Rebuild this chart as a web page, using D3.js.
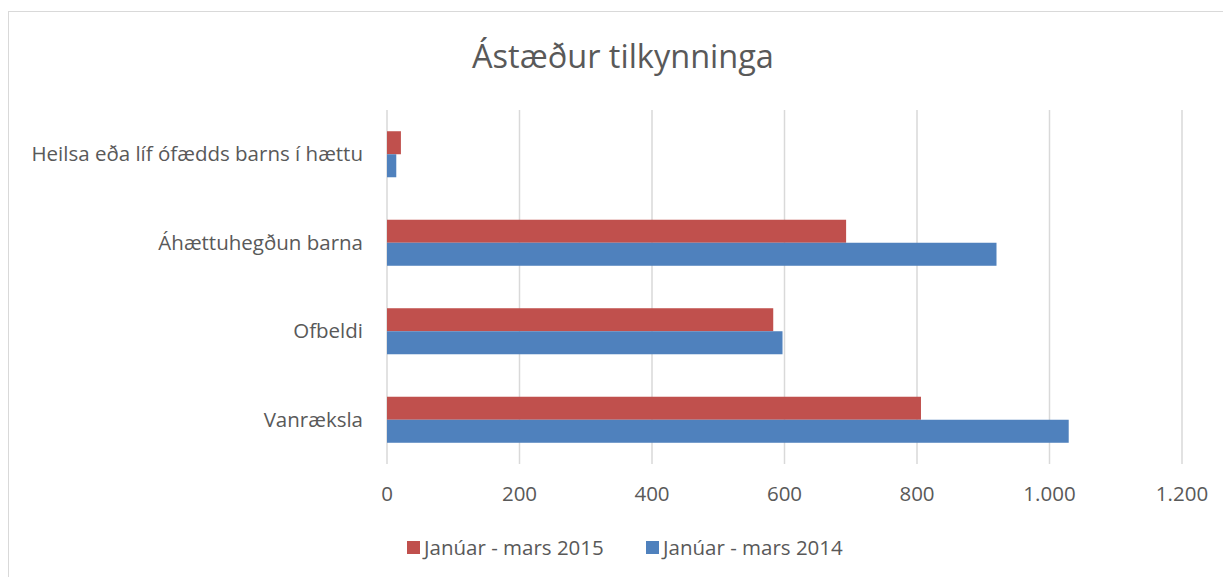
<!DOCTYPE html>
<html lang="is">
<head>
<meta charset="utf-8" />
<title>Ástæður tilkynninga</title>
<script src="https://d3js.org/d3.v7.min.js"></script>
<style>
    body { margin: 0; background: #fff; }
    text { font-family: "Open Sans", "Noto Sans", sans-serif; fill: #595959; }
</style>
</head>
<body>
<div id="chart"></div>
<script>
    // data
    const categories = ["Heilsa eða líf ófædds barns í hættu", "Áhættuhegðun barna", "Ofbeldi", "Vanræksla"];
    const seriesNames = ["Janúar - mars 2015", "Janúar - mars 2014"];
    const values2015 = [21, 693, 583, 806];
    const values2014 = [14, 920, 597, 1029];
    const xTicks = [0, 200, 400, 600, 800, 1000, 1200];
    const colors = ["#c0504d", "#4f81bd"];

    const W = 1223, H = 577;
    const margin = {top: 110, right: 41, bottom: 113, left: 387};
    const width = W - margin.left - margin.right,
        height = H - margin.top - margin.bottom;

    const svg = d3.select("#chart").append("svg")
        .attr("width", W)
        .attr("height", H);

    // outer chart border
    svg.append("rect")
        .attr("x", 8.5).attr("y", 11.5)
        .attr("width", W).attr("height", H)
        .attr("fill", "none")
        .attr("stroke", "#d9d9d9");

    svg.append("text")
        .attr("x", 623).attr("y", 68)
        .attr("text-anchor", "middle")
        .style("font-size", "32.5px")
        .text("Ástæður tilkynninga");

    const g = svg.append("g").attr("transform", `translate(${margin.left},${margin.top})`);

    const x = d3.scaleLinear().domain([0, 1200]).range([0, width]);
    const y = d3.scaleBand().domain(categories).range([0, height]).paddingInner(0.48).paddingOuter(0.24);
    const ySub = d3.scaleBand().domain([0, 1]).range([0, y.bandwidth()]);

    // gridlines
    g.selectAll(".grid").data(xTicks).join("line")
        .attr("x1", d => x(d)).attr("x2", d => x(d))
        .attr("y1", 0).attr("y2", height)
        .attr("stroke", "#d9d9d9").attr("stroke-width", 1.5);

    const rows = categories.map((c, i) => ({cat: c, vals: [values2015[i], values2014[i]]}));

    const grp = g.selectAll(".cat").data(rows).join("g")
        .attr("transform", d => `translate(0,${y(d.cat)})`);

    grp.selectAll("rect").data(d => d.vals.map((v, k) => ({v, k}))).join("rect")
        .attr("x", x(0))
        .attr("y", d => ySub(d.k))
        .attr("width", d => x(d.v) - x(0))
        .attr("height", ySub.bandwidth())
        .attr("fill", d => colors[d.k]);

    // category labels
    g.selectAll(".cl").data(categories).join("text")
        .attr("x", -24)
        .attr("y", d => y(d) + y.bandwidth() / 2)
        .attr("dy", "0.35em")
        .attr("text-anchor", "end")
        .style("font-size", "20.5px")
        .text(d => d);

    // x tick labels
    const fmt = d => d3.format(",")(d).replace(/,/g, ".");
    g.selectAll(".tl").data(xTicks).join("text")
        .attr("x", d => x(d))
        .attr("y", height + 30)
        .attr("dy", "0.35em")
        .attr("text-anchor", "middle")
        .style("font-size", "20.5px")
        .text(fmt);

    // legend
    const legendX = [407, 646];
    const lg = svg.selectAll(".lg").data(seriesNames).join("g")
        .attr("transform", (d, i) => `translate(${legendX[i]},548)`);
    lg.append("rect").attr("x", 0).attr("y", -7).attr("width", 13).attr("height", 13)
        .attr("fill", (d, i) => colors[i]);
    lg.append("text").attr("x", 17).attr("y", 0).attr("dy", "0.35em")
        .style("font-size", "20.5px")
        .text(d => d);
</script>
</body>
</html>
